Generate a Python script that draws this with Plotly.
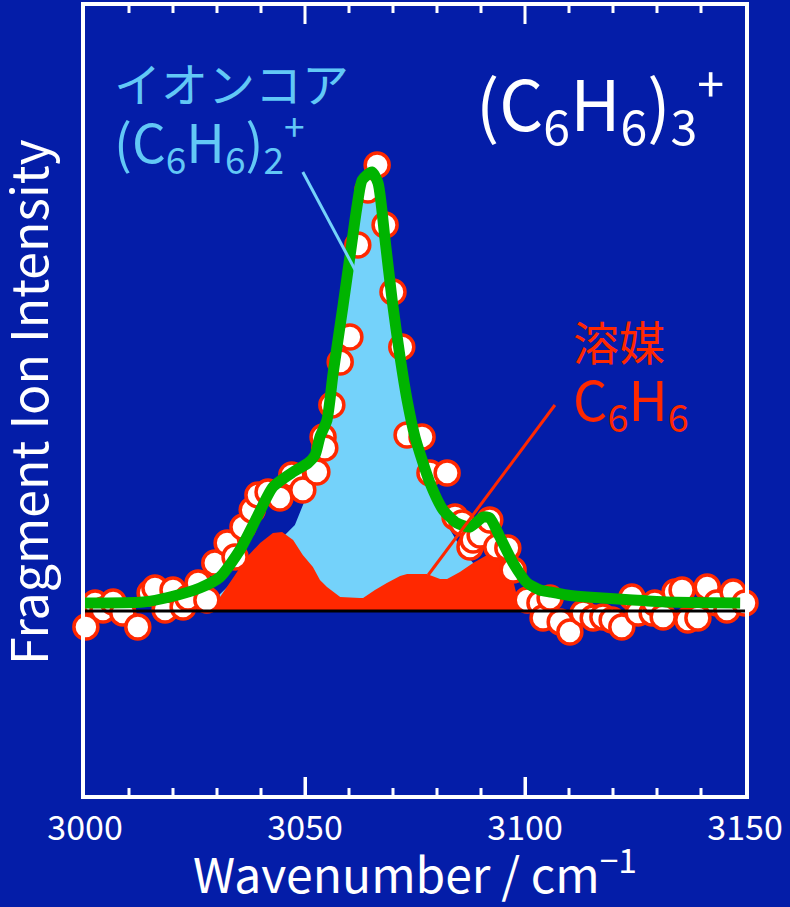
import plotly.graph_objects as go

# ---- data (wavenumber / cm-1, intensity arb. units) ----
pts_x = [3000.2, 3002.3, 3004.1, 3006.4, 3008.6, 3012.0, 3014.8, 3015.9, 3018.2, 3020.0,
         3022.3, 3023.4, 3025.7, 3027.7, 3029.5, 3032.3, 3034.1, 3035.9, 3038.0, 3039.3,
         3041.6, 3044.3, 3047.0, 3049.5, 3052.7, 3054.1, 3054.5, 3056.1, 3058.0, 3060.2,
         3062.0, 3064.3, 3066.4, 3068.2, 3070.0, 3072.0, 3073.2, 3076.6, 3078.4, 3082.3,
         3084.1, 3085.7, 3087.5, 3088.2, 3089.8, 3092.0, 3093.6, 3096.1, 3097.3, 3100.5,
         3103.4, 3104.1, 3105.7, 3108.0, 3110.2, 3113.2, 3115.5, 3117.7, 3119.8, 3122.0,
         3124.3, 3125.7, 3128.9, 3129.5, 3131.4, 3134.1, 3135.7, 3137.0, 3139.3, 3141.4,
         3143.6, 3145.9, 3147.3, 3150.0]
pts_y = [-0.16, 0.08, 0.01, 0.09, -0.02, -0.16, 0.18, 0.23, 0.01, 0.21,
         0.04, 0.13, 0.28, 0.11, 0.48, 0.68, 0.54, 0.84, 1.01, 1.16,
         1.19, 1.13, 1.36, 1.21, 1.39, 1.74, 1.63, 2.06, 2.49, 2.74,
         3.66, 4.21, 4.46, 3.86, 3.19, 2.64, 1.76, 1.74, 1.38, 1.38,
         0.94, 0.88, 0.64, 0.71, 0.76, 0.91, 0.64, 0.63, 0.41, 0.11,
         0.08, -0.07, 0.13, -0.11, -0.21, -0.02, -0.07, -0.06, -0.09, -0.16,
         0.14, -0.02, -0.02, 0.08, -0.06, 0.19, 0.21, -0.09, -0.07, 0.24,
         0.08, 0.01, 0.19, 0.08]

fit_x = [3000.0, 3013.2, 3019.3, 3026.1, 3030.7, 3035.2, 3039.1, 3042.7, 3047.3, 3050.7,
         3052.3, 3053.4, 3055.0, 3056.4, 3058.6, 3060.2, 3061.8, 3063.0, 3065.2, 3066.6,
         3068.2, 3069.8, 3071.6, 3073.2, 3075.0, 3076.1, 3078.4, 3081.4, 3084.5, 3087.5,
         3090.5, 3092.0, 3094.3, 3097.3, 3100.5, 3103.4, 3105.7, 3109.5, 3114.1, 3124.5,
         3132.3, 3148.9]
fit_y = [0.08, 0.09, 0.14, 0.23, 0.34, 0.61, 0.94, 1.24, 1.39, 1.48,
         1.56, 1.74, 1.91, 2.38, 3.04, 3.54, 4.04, 4.31, 4.39, 4.28,
         3.71, 3.11, 2.54, 2.11, 1.74, 1.58, 1.28, 1.01, 0.88, 0.84,
         0.94, 0.93, 0.74, 0.48, 0.28, 0.21, 0.19, 0.16, 0.14, 0.11,
         0.09, 0.08]

core_x = [3026.1, 3028.4, 3030.7, 3035.2, 3039.8, 3044.3, 3047.7, 3050.0, 3052.3, 3053.9,
          3055.7, 3057.5, 3059.1, 3060.7, 3062.5, 3064.3, 3065.7, 3067.0, 3068.2, 3069.8,
          3071.6, 3073.4, 3075.7, 3078.0, 3080.2, 3083.0, 3085.7, 3088.6, 3092.0, 3095.5,
          3098.9, 3103.4]
core_y = [0.0, 0.07, 0.17, 0.36, 0.55, 0.71, 0.86, 1.11, 1.41, 1.66,
          2.11, 2.71, 3.21, 3.71, 4.16, 4.33, 4.31, 4.11, 3.71, 3.11,
          2.56, 2.11, 1.66, 1.31, 1.06, 0.81, 0.61, 0.46, 0.31, 0.16,
          0.06, 0.0]

solv_x = [3028.4, 3030.7, 3034.1, 3036.8, 3039.8, 3042.7, 3044.8, 3047.3, 3049.5, 3051.8,
          3053.4, 3055.0, 3058.0, 3062.5, 3063.2, 3065.9, 3068.6, 3071.6, 3073.2, 3077.7,
          3080.7, 3082.3, 3085.2, 3088.2, 3091.4, 3093.2, 3095.5, 3097.0, 3098.4, 3099.3]
solv_y = [0.0, 0.14, 0.36, 0.54, 0.68, 0.78, 0.79, 0.71, 0.56, 0.44,
          0.31, 0.24, 0.14, 0.13, 0.13, 0.21, 0.28, 0.35, 0.37, 0.37,
          0.32, 0.32, 0.39, 0.48, 0.56, 0.63, 0.56, 0.36, 0.11, 0.0]

x_ticks = [3000, 3050, 3100, 3150]
x_ticklabels = ["3000", "3050", "3100", "3150"]
x_minor_ticks = [3010, 3020, 3030, 3040, 3060, 3070, 3080, 3090,
                 3110, 3120, 3130, 3140]
X_RANGE = [3000, 3150]
Y_RANGE = [-1.84, 6.05]
PLOT_H = 789                 # plot-area height in px
MAJOR_LEN = 18
MINOR_LEN = 7

BG = "#041DA8"
LBLUE = "#74D2FA"
RED = "#FF2800"
GREEN = "#00B400"
FONT = "Noto Sans CJK JP"

fig = go.Figure()
fig.add_trace(go.Scatter(x=core_x, y=core_y, mode="none", fill="tozeroy",
                         fillcolor=LBLUE, hoverinfo="skip", showlegend=False))
fig.add_trace(go.Scatter(x=solv_x, y=solv_y, mode="none", fill="tozeroy",
                         fillcolor=RED, hoverinfo="skip", showlegend=False))
fig.add_trace(go.Scatter(x=pts_x, y=pts_y, mode="markers", cliponaxis=False,
                         marker=dict(size=24, color="white", line=dict(color=RED, width=3.5)),
                         showlegend=False))
fig.add_trace(go.Scatter(x=X_RANGE, y=[0, 0], mode="lines",
                         line=dict(color="black", width=3), showlegend=False))
fig.add_trace(go.Scatter(x=fit_x, y=fit_y, mode="lines",
                         line=dict(color=GREEN, width=11, shape="spline", smoothing=0.6),
                         showlegend=False))

# tick marks along the top and bottom frame (inward), from the tick lists
for xv in x_ticks[1:3] + x_minor_ticks:
    length = MAJOR_LEN if xv in x_ticks else MINOR_LEN
    frac = length / PLOT_H
    fig.add_shape(type="line", xref="x", yref="paper", x0=xv, x1=xv,
                  y0=1, y1=1 - frac, line=dict(color="white", width=3), layer="above")
    fig.add_shape(type="line", xref="x", yref="paper", x0=xv, x1=xv,
                  y0=0, y1=frac, line=dict(color="white", width=3), layer="above")

# leader lines
fig.add_shape(type="line", xref="x", yref="y", x0=3049.5, y0=4.39, x1=3061.4, y1=3.41,
              line=dict(color=LBLUE, width=3))
fig.add_shape(type="line", xref="x", yref="y", x0=3106.8, y0=2.06, x1=3078.0, y1=0.36,
              line=dict(color=RED, width=3))

def ann(text, px, py, size, color, anchor="left", angle=0):
    fig.add_annotation(text=text, xref="paper", yref="paper",
                       x=(px - 85) / 660, y=(795 - py) / 789,
                       xanchor=anchor, yanchor="middle", showarrow=False,
                       textangle=angle,
                       font=dict(family=FONT, size=size, color=color))

ann("イオンコア", 112, 82, 47, "#62C8F6")
ann("(C<sub>6</sub>H<sub>6</sub>)<sub>2</sub><sup>+</sup>", 112, 142, 53, "#62C8F6")
ann("(C<sub>6</sub>H<sub>6</sub>)<sub>3</sub><sup>+</sup>", 474, 103, 69, "white")
ann("溶媒", 571, 340, 46, RED)
ann("C<sub>6</sub>H<sub>6</sub>", 571, 400, 54, RED)
# y-axis title
ann("Fragment Ion Intensity", 26, 402, 50, "white", anchor="center", angle=-90)

fig.update_layout(
    width=790, height=907,
    paper_bgcolor=BG, plot_bgcolor=BG,
    margin=dict(l=85, r=45, t=6, b=112),
    font=dict(family=FONT, color="white"),
    xaxis=dict(range=X_RANGE, tickvals=x_ticks, ticktext=x_ticklabels,
               ticks="inside", ticklen=MAJOR_LEN, tickwidth=3, tickcolor="white",
               showline=True, linewidth=4, linecolor="white", mirror=True,
               showgrid=False, zeroline=False, automargin=False,
               tickfont=dict(size=34, color="white", family=FONT),
               ticklabelstandoff=0,
               title=dict(text="Wavenumber / cm<sup>−1</sup>", standoff=22,
                          font=dict(size=48, color="white", family=FONT))),
    yaxis=dict(range=Y_RANGE, showticklabels=False, ticks="",
               showline=True, linewidth=4, linecolor="white", mirror=True,
               showgrid=False, zeroline=False, automargin=False),
)

fig.write_html("out.html", config={"displayModeBar": False},
               post_script="document.body.style.margin='0';")
